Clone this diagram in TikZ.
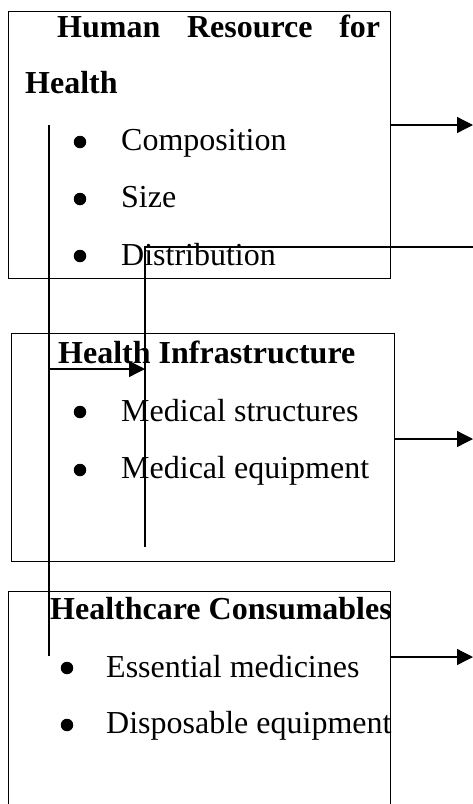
\documentclass[tikz,border=0pt]{standalone}
\usepackage{fontspec}
\setmainfont{Liberation Serif}
\usetikzlibrary{arrows.meta}
\begin{document}
\begin{tikzpicture}[x=1pt,y=-1pt,
  frame/.style={draw,line width=1.3pt,inner sep=0,anchor=north west},
  txt/.style={anchor=base west,inner sep=0,font=\fontsize{32}{38}\selectfont},
  head/.style={txt,font=\fontsize{32}{38}\selectfont\bfseries},
  dot/.style={circle,fill,inner sep=0,minimum size=12.5pt},
  wire/.style={line width=1.2pt},
  arr/.style={line width=1.3pt,-{Triangle[length=16pt,width=16pt]}}]
\clip (0,0) rectangle (473,804);

% three boxes
\node[frame,minimum width=382pt,minimum height=267pt] (box1) at (8,11) {};
\node[frame,minimum width=383pt,minimum height=228pt] (box2) at (11,333) {};
\node[frame,minimum width=382pt,minimum height=240pt] (box3) at (8,591) {};

% box 1 text
\node[head] (h1) at (57,37) {\makebox[323pt][s]{Human Resource for}};
\node[head] (h1b) at (25,93) {Health};
\node[dot] (b11) at (80,142) {};
\node[txt] (i11) at (121,150) {Composition};
\node[dot] (b12) at (80,199) {};
\node[txt] (i12) at (121,207) {Size};
\node[dot] (b13) at (80,256) {};
\node[txt] (i13) at (121,265) {Distribution};

% box 2 text
\node[head] (h2) at (58,363) {Health Infrastructure};
\node[dot] (b21) at (80,412) {};
\node[txt] (i21) at (121,421) {Medical structures};
\node[dot] (b22) at (80,470) {};
\node[txt] (i22) at (121,478) {Medical equipment};

% box 3 text
\node[head] (h3) at (50,619) {Healthcare Consumables};
\node[dot] (b31) at (67,668) {};
\node[txt] (i31) at (106,677) {Essential medicines};
\node[dot] (b32) at (67,725) {};
\node[txt] (i32) at (106,733) {Disposable equipment};

% connector end points
\coordinate (t1) at (473,125);
\coordinate (t2) at (473,439);
\coordinate (t3) at (473,657);
\coordinate (la) at (49,125);
\coordinate (lb) at (49,656);
\coordinate (ma) at (49,369);
\coordinate (mb) at (145,369);
\coordinate (ka) at (145,247);
\coordinate (kb) at (145,547);
\coordinate (ke) at (473,247);

% outgoing arrows
\draw[arr] (t1 -| box1.east) -- (t1);
\draw[arr] (t2 -| box2.east) -- (t2);
\draw[arr] (t3 -| box3.east) -- (t3);

% vertical guide lines
\draw[wire] (la) -- (lb);
\draw[wire] (ke) -- (ka) -- (kb);
\draw[arr] (ma) -- (mb);
\end{tikzpicture}
\end{document}
